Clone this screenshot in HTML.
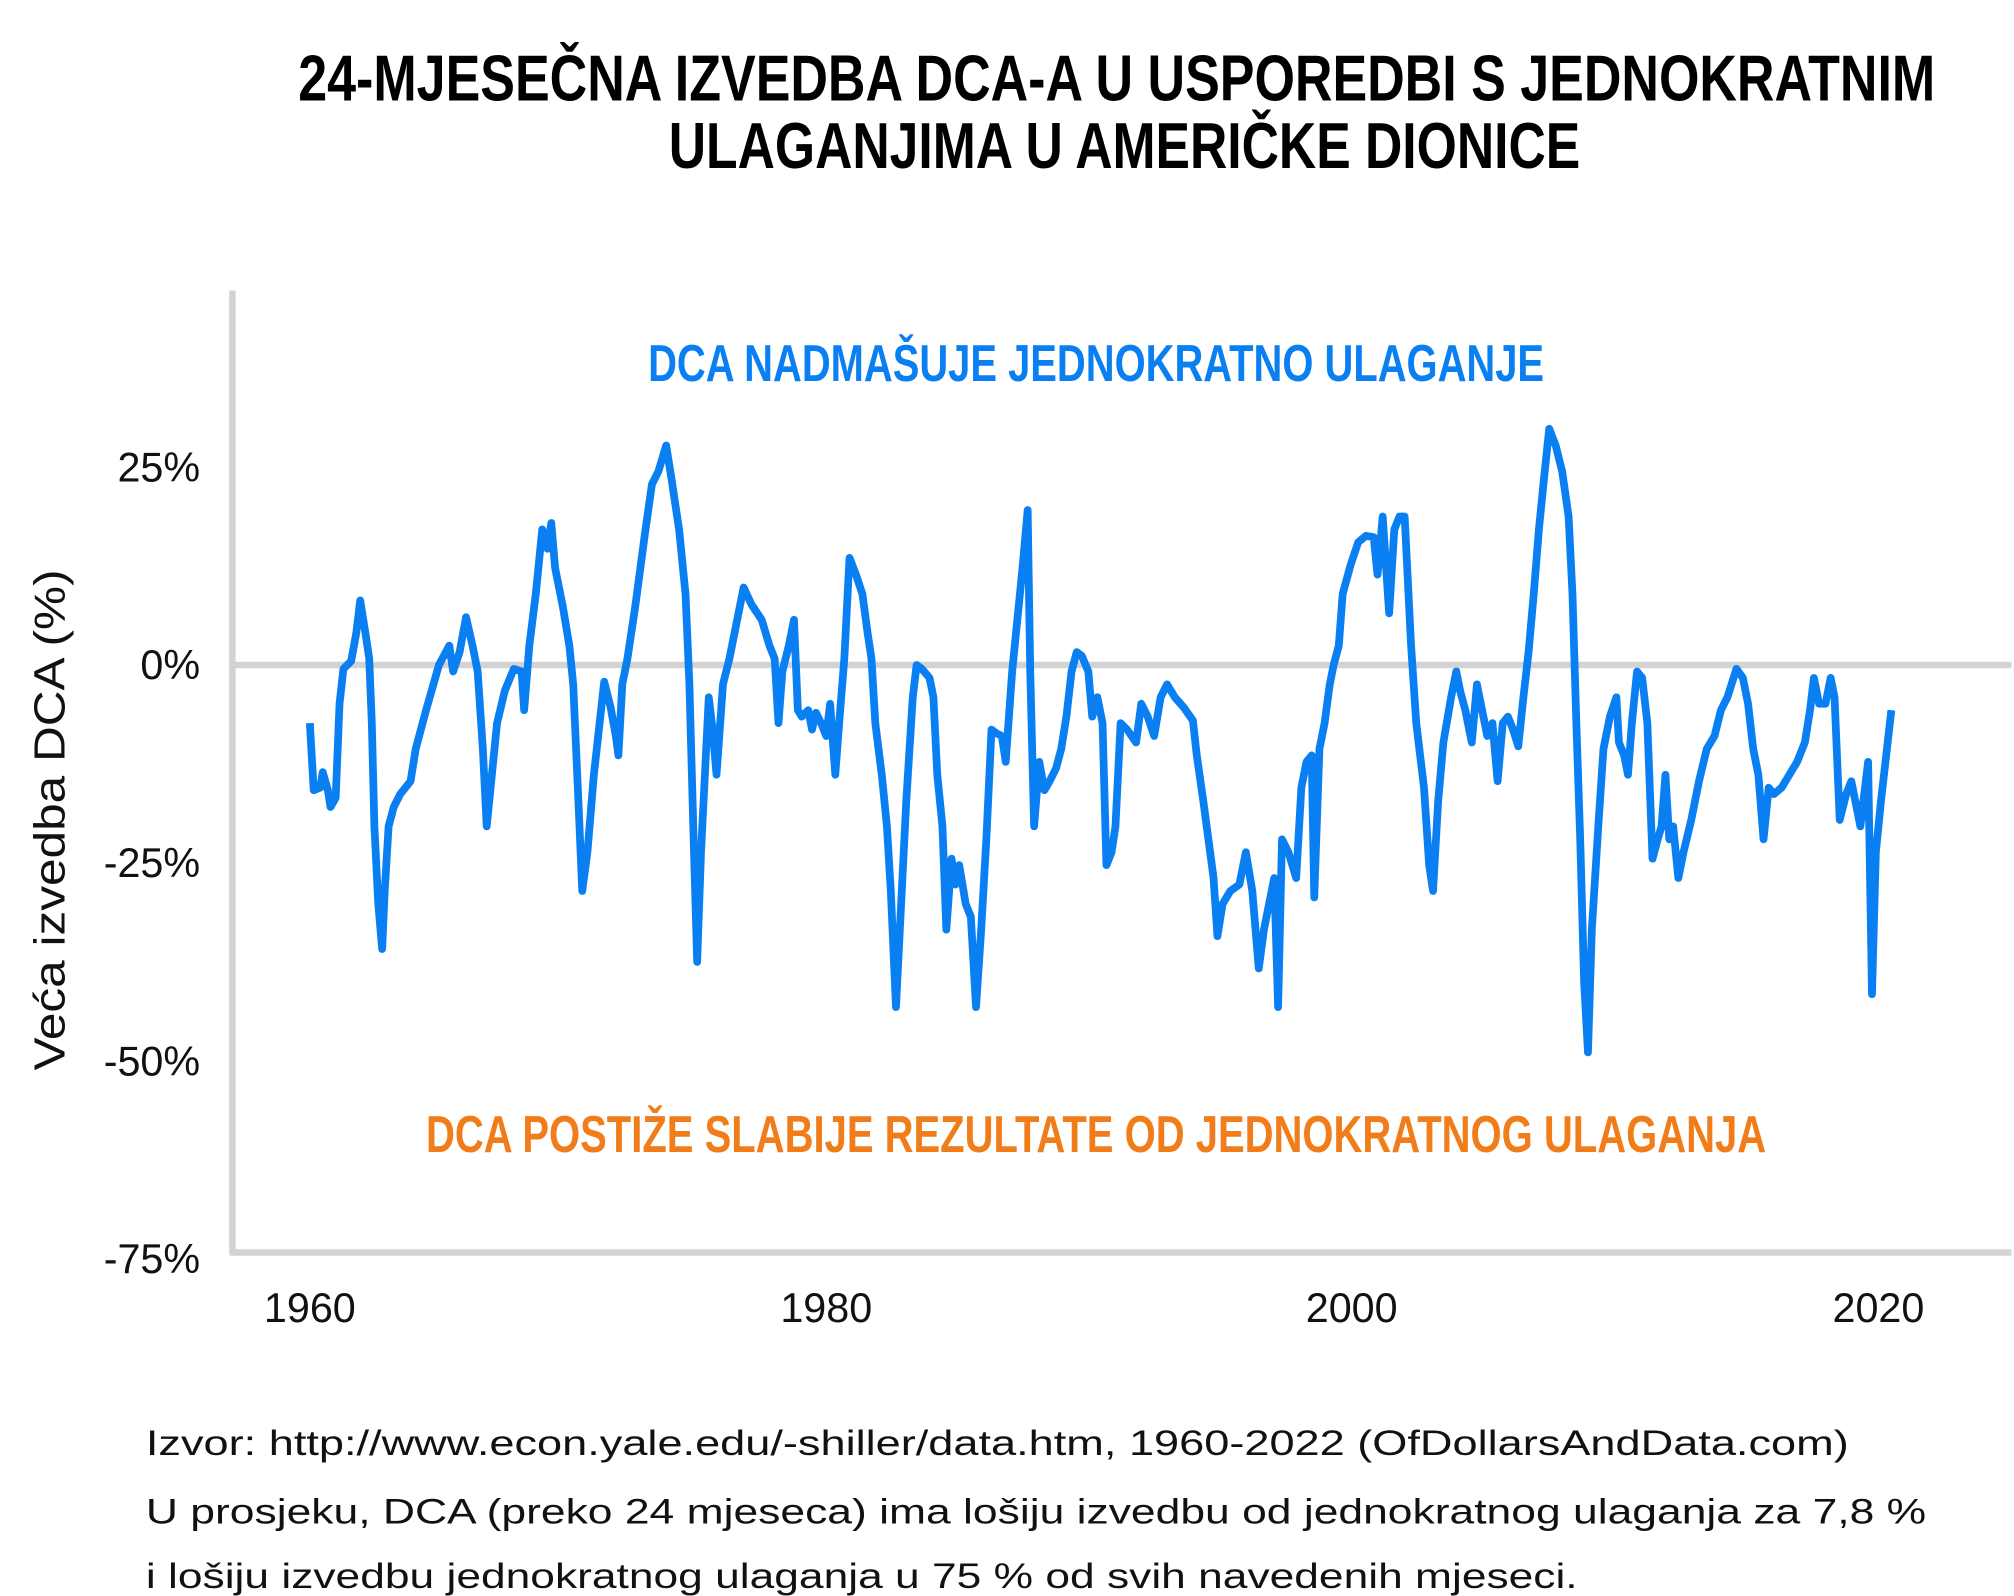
<!DOCTYPE html>
<html><head><meta charset="utf-8"><style>html,body{margin:0;padding:0;background:#fff}svg{display:block}</style></head>
<body>
<svg width="2014" height="1596" viewBox="0 0 1560 1236" preserveAspectRatio="none" xmlns="http://www.w3.org/2000/svg">
<rect width="1560" height="1236" fill="#fff"/>
<g font-family="'Liberation Sans Narrow','Liberation Sans',sans-serif" font-weight="bold" text-anchor="middle">
<text x="865" y="78" font-size="50" textLength="1268" lengthAdjust="spacingAndGlyphs">24-MJESEČNA IZVEDBA DCA-A U USPOREDBI S JEDNOKRATNIM</text>
<text x="871" y="130" font-size="50" textLength="706" lengthAdjust="spacingAndGlyphs">ULAGANJIMA U AMERIČKE DIONICE</text>
<text x="849" y="295" font-size="40" fill="#0a7ff2" textLength="694" lengthAdjust="spacingAndGlyphs">DCA NADMAŠUJE JEDNOKRATNO ULAGANJE</text>
<text x="849" y="892" font-size="40" fill="#f07d1a" textLength="1038" lengthAdjust="spacingAndGlyphs">DCA POSTIŽE SLABIJE REZULTATE OD JEDNOKRATNOG ULAGANJA</text>
</g>
<g stroke="#d3d3d3" stroke-width="5">
<line x1="180" y1="225" x2="180" y2="972"/>
<line x1="178" y1="970" x2="1558" y2="970"/>
<line x1="180" y1="515" x2="1558" y2="515"/>
</g>
<polyline fill="none" stroke="#0a7ff2" stroke-width="6" stroke-linejoin="round" points="240,560 243,612 248,610 250,598 254,612 256,625 260,618 263,545 266,518 272,512 276,490 279,465 283,490 286,510 288,560 290,640 293,700 296,735 298,690 301,640 305,625 310,615 318,605 322,580 330,550 340,515 348,500 351,520 356,505 361,478 366,500 370,520 374,580 377,640 381,600 385,560 391,535 398,518 404,520 406,550 410,500 415,460 420,410 424,425 427,405 430,440 436,470 441,500 444,530 448,620 451,690 455,660 460,600 468,528 473,548 477,570 479,585 482,530 486,510 492,470 500,410 505,375 510,365 516,345 520,370 526,410 531,460 534,530 537,640 540,745 543,660 546,600 549,540 552,565 555,600 560,530 565,510 570,485 576,455 582,468 590,480 596,500 600,510 603,560 606,520 611,500 615,480 618,550 621,555 626,550 629,565 632,552 636,560 640,570 643,545 647,600 650,560 654,510 658,432 663,445 668,460 672,490 675,510 678,560 683,600 687,640 690,690 694,780 698,700 702,620 707,540 710,515 714,518 720,525 723,540 726,600 730,640 733,720 737,665 740,685 743,670 748,700 752,710 756,780 760,720 764,650 768,565 772,568 776,570 779,590 784,520 788,480 792,440 796,395 798,520 801,640 805,590 809,612 813,605 818,595 822,580 826,555 830,520 834,505 838,508 843,520 846,555 850,540 854,560 857,670 861,660 864,640 868,560 873,565 880,575 884,545 889,555 894,570 899,540 904,530 910,540 917,548 924,558 927,585 932,620 936,650 940,680 943,725 947,700 953,690 960,685 965,660 970,690 975,750 979,720 983,700 987,680 990,780 993,650 998,660 1004,680 1008,610 1012,590 1016,585 1018,695 1022,580 1026,560 1030,530 1033,515 1037,500 1040,460 1046,438 1052,420 1058,415 1064,416 1067,445 1071,400 1076,475 1080,410 1084,400 1088,400 1093,500 1097,560 1103,610 1107,670 1110,690 1114,620 1118,575 1124,540 1128,520 1131,535 1135,550 1140,575 1144,530 1148,550 1152,570 1156,560 1160,605 1164,560 1168,555 1172,565 1176,578 1180,540 1184,505 1188,460 1192,410 1196,370 1200,332 1205,345 1210,365 1215,400 1218,460 1221,560 1224,650 1227,760 1230,815 1233,720 1238,640 1242,580 1247,555 1252,540 1254,575 1258,585 1261,600 1264,560 1268,520 1272,525 1276,560 1280,665 1284,650 1287,640 1290,600 1293,650 1296,640 1300,680 1304,660 1310,635 1316,605 1322,580 1328,570 1333,550 1338,540 1345,518 1350,525 1354,545 1358,580 1362,600 1366,650 1370,610 1374,615 1380,610 1386,600 1392,590 1398,575 1402,550 1405,525 1409,545 1414,545 1418,525 1421,540 1425,635 1430,615 1434,605 1438,625 1441,640 1444,615 1447,590 1450,770 1453,660 1457,620 1461,585 1465,550"/>
<g font-family="'Liberation Sans',sans-serif" font-size="32" fill="#111">
<g text-anchor="end">
<text x="155" y="373">25%</text>
<text x="155" y="526">0%</text>
<text x="155" y="679">-25%</text>
<text x="155" y="833">-50%</text>
<text x="155" y="986">-75%</text>
</g>
<g text-anchor="middle">
<text x="240" y="1024">1960</text>
<text x="640" y="1024">1980</text>
<text x="1047" y="1024">2000</text>
<text x="1455" y="1024">2020</text>
</g>
<text transform="translate(50,635) rotate(-90)" text-anchor="middle" font-size="34" textLength="388" lengthAdjust="spacingAndGlyphs">Veća izvedba DCA (%)</text>
<g font-size="27">
<text x="113" y="1127" textLength="1319" lengthAdjust="spacingAndGlyphs">Izvor: http://www.econ.yale.edu/-shiller/data.htm, 1960-2022 (OfDollarsAndData.com)</text>
<text x="113" y="1180" textLength="1379" lengthAdjust="spacingAndGlyphs">U prosjeku, DCA (preko 24 mjeseca) ima lošiju izvedbu od jednokratnog ulaganja za 7,8 %</text>
<text x="113" y="1230" textLength="1109" lengthAdjust="spacingAndGlyphs">i lošiju izvedbu jednokratnog ulaganja u 75 % od svih navedenih mjeseci.</text>
</g>
</g>
</svg>
</body></html>
